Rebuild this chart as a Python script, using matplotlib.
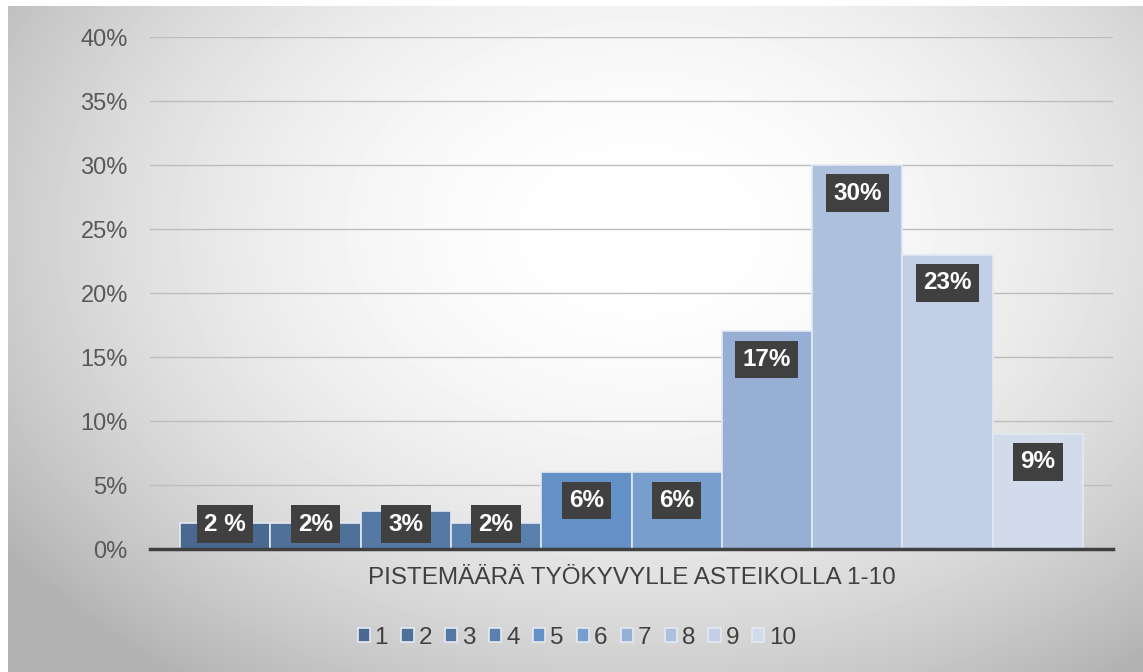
import numpy as np
import matplotlib.pyplot as plt

# Data
scores = ["1", "2", "3", "4", "5", "6", "7", "8", "9", "10"]
shares = [2, 2, 3, 2, 6, 6, 17, 30, 23, 9]  # %
labels = ["2 %", "2%", "3%", "2%", "6%", "6%", "17%", "30%", "23%", "9%"]
colors = ["#4a6990", "#4f7099", "#5578a4", "#5a80ae", "#6390c6",
          "#789ecd", "#97afd4", "#adc0dd", "#c2cfe6", "#d2dbec"]
xlabel = "PISTEMÄÄRÄ TYÖKYVYLLE ASTEIKOLLA 1-10"

plt.rcParams["font.family"] = ["Liberation Sans", "DejaVu Sans"]

W, H = 1143, 672
fig = plt.figure(figsize=(W / 100, H / 100), dpi=100)

# taustan radiaalinen liukuvari
bg = fig.add_axes([0, 0, 1, 1])
bg.set_xlim(0, W)
bg.set_ylim(H, 0)
bg.axis("off")
xx, yy = np.meshgrid(np.arange(8, W), np.arange(6, H))
r = np.sqrt(((xx - 640) / 700) ** 2 + ((yy - 230) / 500) ** 2)
shade = 255 - 62 * np.clip(r, 0, 1.1) ** 2
bg.imshow(shade, cmap="gray", vmin=0, vmax=255, extent=[8, W, H, 6],
          aspect="auto", interpolation="bilinear")

# varsinainen kuvaaja
x0, x1, y0, y1 = 150, 1113, 549, 37
ax = fig.add_axes([x0 / W, 1 - y0 / H, (x1 - x0) / W, (y0 - y1) / H])
ax.patch.set_alpha(0)
xs = np.arange(len(shares))
for i in xs:
    ax.bar(i, shares[i], width=1, color=colors[i], edgecolor="#e4e9f2",
           linewidth=1.2, zorder=3, label=scores[i])
    ylab = max(shares[i] - 2.2, 1.95)
    ax.text(i, ylab, labels[i], ha="center", va="center", color="white",
            fontsize=17.5, fontweight="bold", zorder=5,
            bbox=dict(boxstyle="square,pad=0.3", fc="#404040", ec="none"))

m = 30 / 90.3
ax.set_xlim(-0.5 - m, len(shares) - 0.5 + m)
ax.set_ylim(0, 40)
ax.set_yticks(np.arange(0, 41, 5))
ax.set_yticklabels([f"{v}%" for v in range(0, 41, 5)])
ax.set_xticks([])
ax.tick_params(axis="y", length=0, pad=16, labelsize=17, labelcolor="#595959")
ax.grid(axis="y", color="#bdbdbd", linewidth=1, zorder=0)
for s in ["top", "right", "left"]:
    ax.spines[s].set_visible(False)
ax.spines["bottom"].set_color("#404040")
ax.spines["bottom"].set_linewidth(2.5)
ax.spines["bottom"].set_zorder(4)
ax.set_xlabel(xlabel, fontsize=17.5, color="#404040", labelpad=13)

fig.legend(loc="center", bbox_to_anchor=(577 / W, 1 - 638 / H), ncol=10,
           frameon=False, fontsize=17.5, handlelength=0.5, handleheight=0.5,
           handletextpad=0.2, columnspacing=0.55, labelcolor="#404040")

fig.savefig("out.png", dpi=100)
